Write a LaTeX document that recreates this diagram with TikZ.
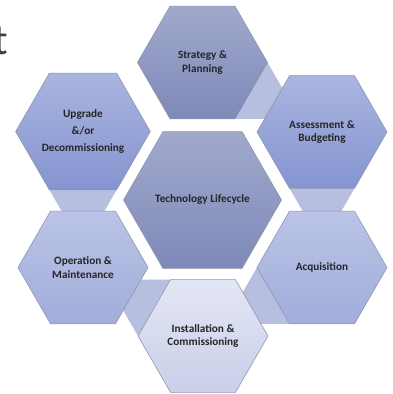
\documentclass[tikz,border=0pt]{standalone}
\usepackage{fontspec}
\setmainfont{Carlito}
\usetikzlibrary{shapes.geometric,calc,backgrounds}

\definecolor{hexline}{HTML}{8E93AC}
\definecolor{linkfill}{HTML}{B6BFE0}
\definecolor{hubtop}{HTML}{A1A9CC}
\definecolor{hubbot}{HTML}{7E89B8}
\definecolor{midtop}{HTML}{AAB5DF}
\definecolor{midbot}{HTML}{8594D1}
\definecolor{softtop}{HTML}{BBC4E7}
\definecolor{softbot}{HTML}{A1ADDA}
\definecolor{palettop}{HTML}{E3E6F4}
\definecolor{palebot}{HTML}{C9CFE9}

\begin{document}
\begin{tikzpicture}[x=0.025cm, y=-0.025cm,
        hexcell/.style={regular polygon, regular polygon sides=6,
            minimum size=3.25cm, inner sep=0pt, outer sep=0pt,
            draw=hexline, line width=0.4pt, align=center, text=black!85,
            font=\fontsize{8}{9.4}\selectfont\bfseries},
        hexhub/.style={hexcell, minimum size=3.95cm, top color=hubtop, bottom color=hubbot},
        link/.style={fill=linkfill}]
                \useasboundingbox (0, 0) rectangle (393, 394);

                \node[text=black!75, inner sep=0pt, anchor=base east,
                    font=\fontsize{31}{31}\selectfont] (head) at (8, 55) {t};

                \node[hexhub] (hub) at (202.5, 200) {Technology Lifecycle};

                \node[hexcell, top color=hubtop, bottom color=hubbot] (strat) at (202.5, 62.5) {Strategy \&\\Planning};
                \node[hexcell, top color=midtop, bottom color=midbot] (assess) at (322, 132) {Assessment \&\\Budgeting};
                \node[hexcell, top color=softtop, bottom color=softbot] (acq) at (322, 267.5) {Acquisition};
                \node[hexcell, top color=palettop, bottom color=palebot] (inst) at (203, 336) {Installation \&\\Commissioning};
                \node[hexcell, top color=softtop, bottom color=softbot] (oper) at (83, 267.5) {Operation \&\\Maintenance};
                \node[hexcell, top color=midtop, bottom color=midbot] (upgr) at (83, 131.5) {Upgrade\\[3pt]\&/or\\[3pt]Decommissioning};

                % links sit behind the cells, only the gap part shows
                \begin{pgfonlayer}{background}
                    \fill[link] (strat.corner 5) -- (strat.corner 6) -- ($(strat.corner 5)+(strat.corner 6)-(strat.center)$) -- cycle;
                    \fill[link] (assess.corner 4) -- (assess.corner 5) -- ($(assess.corner 4)+(assess.corner 5)-(assess.center)$) -- cycle;
                    \fill[link] (acq.corner 3) -- (acq.corner 4) -- ($(acq.corner 3)+(acq.corner 4)-(acq.center)$) -- cycle;
                    \fill[link] (inst.corner 2) -- (inst.corner 3) -- ($(inst.corner 2)+(inst.corner 3)-(inst.center)$) -- cycle;
                    \fill[link] (upgr.corner 4) -- (upgr.corner 5) -- ($(upgr.corner 4)+(upgr.corner 5)-(upgr.center)$) -- cycle;
                \end{pgfonlayer}
\end{tikzpicture}
\end{document}
